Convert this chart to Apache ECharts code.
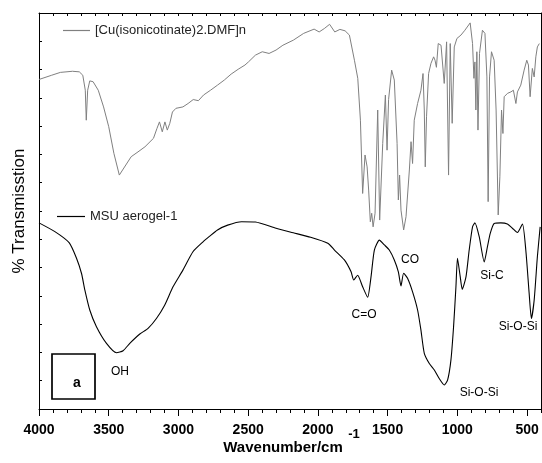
<!DOCTYPE html>
<html>
<head>
<meta charset="utf-8">
<title>FTIR spectra</title>
<script src="https://cdn.jsdelivr.net/npm/echarts@6/dist/echarts.min.js"></script>
<style>
  html, body { margin: 0; padding: 0; background: #fff; }
  #chart { width: 542px; height: 463px; }
</style>
</head>
<body>
<div id="chart"></div>
<script>
// Upper trace: [Cu(isonicotinate)2.DMF]n (wavenumber in cm-1, offset transmission)
const cuWavenumber = [4000,3909,3847,3760,3711,3686,3668,3661,3651,3636,3612,3575,3537,3500,3463,3424,3339,3290,3240,3179,3154,3136,3116,3097,3080,3062,3043,3018,2968,2931,2894,2857,2820,2770,2720,2671,2622,2572,2523,2498,2448,2399,2350,2300,2251,2176,2102,2027,1991,1954,1916,1879,1842,1805,1774,1738,1714,1695,1679,1662,1647,1636,1624,1614,1604,1590,1571,1557,1535,1516,1504,1493,1471,1452,1432,1423,1414,1404,1385,1368,1344,1332,1321,1309,1285,1261,1246,1237,1230,1221,1206,1189,1170,1160,1150,1137,1117,1094,1077,1063,1051,1037,1022,1003,974,946,908,891,881,874,867,860,852,841,820,802,788,779,769,755,736,722,707,695,683,673,664,640,616,598,580,569,545,521,502,490,478,462,449,437,426,412];
const cuTransmission = [116.5,118,119,119.4,119.2,118,112.7,102.1,112.7,116,115.7,112.7,106.8,99.8,90.4,82.7,89.2,90.9,92.7,95.7,99.2,101.5,98,101.5,98.6,101,105,106.3,106.8,108,109.4,109,111,112.7,114.5,116.3,118.4,120.1,121.6,122.7,125.1,126.3,125.7,126.9,128.6,130.4,132.8,134.3,133.3,134.5,136,133.3,134.2,133.7,132.2,123.3,116.9,102.1,76.2,89.8,85.6,77.4,66.2,69.2,64.4,69.2,105.7,66.8,93.9,111,91.5,109.4,119.8,116.3,93.9,73.9,82.7,70.3,63.3,68,84.5,94.5,86.8,102.1,108,112.7,118.6,105.7,85.6,103.3,118.6,122.2,124.5,123.3,120.8,129.2,128.6,115.1,129.8,82.7,129.2,101,128,131,132.2,133.9,136.5,129.2,116.9,122.7,105.7,126.3,98.6,125.7,133.9,132.8,117.4,73.3,117.4,126.3,123.3,105.7,68.6,82.1,105.7,97.4,110.4,111.6,112.1,112.7,108,112.1,114.5,119.8,123.3,121.6,110.4,120.4,117.4,124.5,128,129.2];

// Lower trace: MSU aerogel-1
const msuWavenumber = [4000,3886,3784,3731,3695,3671,3636,3588,3516,3444,3397,3349,3277,3218,3158,3099,3039,2968,2896,2824,2776,2720,2647,2547,2448,2300,2176,2052,1929,1881,1810,1762,1743,1715,1679,1643,1619,1595,1559,1523,1488,1452,1423,1404,1385,1357,1321,1285,1261,1237,1201,1165,1130,1094,1070,1046,1027,1010,999,979,965,938,915,891,874,843,807,784,764,736,688,641,605,569,533,509,485,469,449,426,406];
const msuTransmission = [65.8,62.7,58.8,53.3,47.9,42,35,29.1,23.2,19.9,20.6,23.2,26.5,28.5,32,36.7,43.2,49.1,55.6,59.1,61.1,63.3,65,66.2,66.1,63.9,62.3,60.7,58.6,56.2,52.7,48.5,45.6,47.3,43.2,39.5,46.7,56.2,59.7,58,56.2,52.7,48.5,43.5,48,46.2,41.4,35,27.9,19.7,16.1,13.8,10.8,8.5,10.2,17.3,29.1,43.2,53.3,46.7,42.3,46.7,56.2,64.4,65.8,60.9,52,57.4,62.1,65.6,65.8,65.4,63.9,62.4,65.4,56.2,40.9,32,38.5,53.8,64.4];

const seriesNames = ['[Cu(isonicotinate)2.DMF]n', 'MSU aerogel-1'];
const majorTicks = [4000, 3500, 3000, 2500, 2000, 1500, 1000, 500];
const minorTicks = [];
for (let w = 400; w <= 4000; w += 100) minorTicks.push(w);

const peakLabels = ['OH', 'C=O', 'CO', 'Si-C', 'Si-O-Si', 'Si-O-Si'];
const peakLabelPos = [[120, 372], [364, 315], [410, 260], [492, 276], [518, 327], [479, 393]];

const pair = (xs, ys) => xs.map((x, i) => [x, ys[i]]);

const FONT = '"Liberation Sans", Arial, Helvetica, sans-serif';
const X_MIN = 400, X_MAX = 4000;

const chart = echarts.init(document.getElementById('chart'), null, { renderer: 'canvas' });

const baseX = {
  type: 'value', min: X_MIN, max: X_MAX, inverse: true,
  splitLine: { show: false }
};

const legendBase = {
  icon: 'rect', itemHeight: 1.2, itemGap: 0,
  textStyle: { fontFamily: FONT, fontSize: 13, color: '#222' }
};

chart.setOption({
  animation: false,
  backgroundColor: '#ffffff',
  grid: { left: 39, right: 1, top: 13, bottom: 54, containLabel: false },
  legend: [
    Object.assign({}, legendBase, { data: [seriesNames[0]], left: 58, top: 19, itemWidth: 27 }),
    Object.assign({}, legendBase, { data: [seriesNames[1]], left: 52, top: 205, itemWidth: 28 })
  ],
  xAxis: [
    Object.assign({}, baseX, {
      position: 'bottom',
      axisLine: { show: true, lineStyle: { color: '#000', width: 1 } },
      axisTick: { show: true, inside: false, length: 7, customValues: majorTicks, lineStyle: { color: '#000', width: 1 } },
      axisLabel: {
        show: true, customValues: majorTicks, margin: 14,
        formatter: v => String(v),
        fontFamily: FONT, fontSize: 14, fontWeight: 'bold', color: '#000'
      }
    }),
    Object.assign({}, baseX, {
      position: 'bottom',
      axisLine: { show: false },
      axisTick: { show: true, inside: false, length: 4, customValues: minorTicks, lineStyle: { color: '#000', width: 1 } },
      axisLabel: { show: false }
    }),
    Object.assign({}, baseX, {
      position: 'top',
      axisLine: { show: true, lineStyle: { color: '#000', width: 1 } },
      axisTick: { show: true, inside: true, length: 3, customValues: minorTicks, lineStyle: { color: '#000', width: 1 } },
      axisLabel: { show: false }
    })
  ],
  yAxis: [
    {
      type: 'value', min: 0, max: 140, interval: 10, position: 'left',
      name: '% Transmisstion', nameLocation: 'middle', nameGap: 11,
      nameTextStyle: { fontFamily: FONT, fontSize: 17, color: '#000' },
      axisLine: { show: true, lineStyle: { color: '#000', width: 1 } },
      axisTick: { show: true, inside: true, length: 3, lineStyle: { color: '#000' } },
      axisLabel: { show: false },
      splitLine: { show: false }
    },
    {
      type: 'value', min: 0, max: 140, interval: 10, position: 'right',
      axisLine: { show: true, onZero: false, lineStyle: { color: '#000', width: 1 } },
      axisTick: { show: false },
      axisLabel: { show: false },
      splitLine: { show: false }
    }
  ],
  series: [
    {
      name: seriesNames[0], type: 'line', xAxisIndex: 0, yAxisIndex: 0,
      data: pair(cuWavenumber, cuTransmission),
      symbol: 'none', showSymbol: false, smooth: false,
      lineStyle: { color: '#808080', width: 1 }, itemStyle: { color: '#808080' }
    },
    {
      name: seriesNames[1], type: 'line', xAxisIndex: 0, yAxisIndex: 0,
      data: pair(msuWavenumber, msuTransmission),
      symbol: 'none', showSymbol: false, smooth: 0.2,
      lineStyle: { color: '#000', width: 1.1 }, itemStyle: { color: '#000' }
    }
  ],
  graphic: [
    // axis title with superscript
    { type: 'text', x: 283, y: 448, style: {
        text: 'Wavenumber/cm', font: 'bold 15px ' + FONT, fill: '#000',
        textAlign: 'center', textVerticalAlign: 'middle' } },
    { type: 'text', x: 354, y: 434, style: {
        text: '-1', font: 'bold 13px ' + FONT, fill: '#000',
        textAlign: 'center', textVerticalAlign: 'middle' } },
    // panel tag
    { type: 'rect', shape: { x: 52, y: 354, width: 43, height: 45 },
      style: { fill: 'none', stroke: '#000', lineWidth: 1.7 } },
    { type: 'text', x: 77, y: 383, style: {
        text: 'a', font: 'bold 14px ' + FONT, fill: '#000',
        textAlign: 'center', textVerticalAlign: 'middle' } }
  ].concat(peakLabels.map((t, i) => ({
    type: 'text', x: peakLabelPos[i][0], y: peakLabelPos[i][1],
    style: { text: t, font: '12px ' + FONT, fill: '#000', textAlign: 'center', textVerticalAlign: 'middle' }
  })))
});
</script>
</body>
</html>
